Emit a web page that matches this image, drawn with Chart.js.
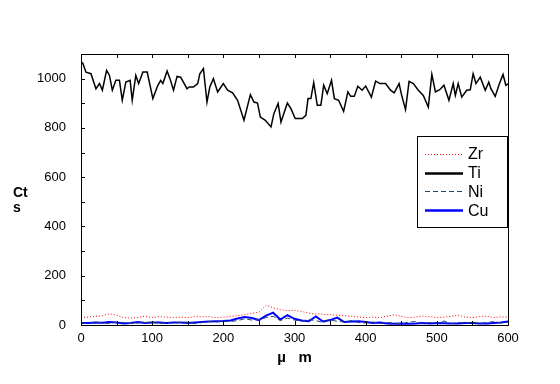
<!DOCTYPE html>
<html>
<head>
<meta charset="utf-8">
<script src="https://cdn.jsdelivr.net/npm/chart.js@4/dist/chart.umd.min.js"></script>
<style>
    html, body { margin: 0; padding: 0; background: #fff; }
</style>
</head>
<body>
<canvas id="profileChart" width="560" height="384"></canvas>
<script>
// Ti trace, read point by point (position in µm, counts)
const tiX = [2, 7, 14, 21, 26, 30, 36, 40, 44, 49, 54, 58, 63, 69, 72, 77, 81, 87, 93, 101,
    108, 112, 115, 121, 125, 130, 135, 140, 149, 152, 158, 164, 167, 172, 177, 181, 186, 192, 200, 206,
    213, 220, 229, 238, 243, 248, 252, 259, 267, 271, 277, 281, 290, 295, 301, 311, 316, 319, 323, 327,
    332, 337, 341, 346, 352, 356, 362, 369, 375, 379, 384, 389, 395, 400, 408, 414, 420, 428, 435, 440,
    447, 450, 456, 461, 467, 474, 481, 488, 493, 498, 504, 510, 517, 523, 526, 530, 535, 542, 547, 551,
    555, 561, 568, 573, 576, 582, 588, 593, 597, 601];
const tiY = [1067, 1026, 1020, 959, 980, 953, 1034, 1013, 953, 993, 993, 912, 986, 993, 912, 1013, 980, 1027, 1027, 919,
    973, 993, 980, 1031, 1000, 953, 1009, 1006, 959, 966, 966, 980, 1020, 1041, 905, 966, 1000, 946, 980, 953,
    942, 912, 831, 935, 905, 901, 844, 831, 804, 858, 899, 824, 901, 878, 838, 838, 851, 919, 919, 984,
    892, 892, 973, 939, 993, 919, 912, 867, 946, 928, 928, 969, 953, 970, 925, 990, 980, 980, 953, 942,
    980, 939, 874, 989, 980, 953, 932, 885, 1017, 946, 955, 973, 912, 980, 932, 980, 925, 953, 955, 1020,
    980, 1006, 953, 986, 959, 928, 980, 1017, 973, 980];

// minor elements, sampled every 10 µm
const stepX = [0, 10, 20, 30, 40, 50, 60, 70, 80, 90, 100, 110, 120, 130, 140, 150, 160, 170, 180, 190,
    200, 210, 220, 230, 240, 250, 260, 270, 280, 290, 300, 310, 320, 330, 340, 350, 360, 370, 380, 390,
    400, 410, 420, 430, 440, 450, 460, 470, 480, 490, 500, 510, 520, 530, 540, 550, 560, 570, 580, 590, 600];
const zrY = [30, 32, 35, 38, 45, 40, 30, 28, 30, 36, 30, 34, 32, 30, 32, 30, 34, 33, 34, 30,
    32, 35, 38, 42, 48, 52, 80, 70, 62, 58, 60, 55, 48, 45, 44, 42, 40, 38, 35, 33,
    30, 32, 30, 36, 42, 35, 30, 32, 36, 34, 30, 32, 35, 40, 32, 30, 34, 36, 30, 33, 32];
const niY = [10, 4, 12, 8, 6, 12, 10, 6, 8, 10, 12, 6, 10, 8, 10, 12, 6, 10, 14, 12,
    15, 14, 18, 25, 20, 22, 30, 35, 18, 28, 20, 15, 22, 18, 10, 20, 15, 12, 18, 10,
    8, 12, 6, 10, 8, 4, 12, 14, 6, 10, 8, 16, 6, 10, 8, 12, 6, 10, 14, 8, 12];
const cuY = [8, 8, 10, 9, 12, 10, 6, 8, 12, 8, 10, 10, 8, 10, 10, 8, 10, 12, 14, 15,
    16, 18, 26, 32, 28, 20, 38, 50, 22, 40, 25, 18, 15, 35, 14, 20, 30, 12, 14, 15,
    12, 8, 10, 6, 5, 6, 5, 6, 8, 6, 8, 7, 6, 6, 8, 8, 6, 6, 8, 10, 14];

const xTicks = [0, 100, 200, 300, 400, 500, 600];
const yTicks = [0, 200, 400, 600, 800, 1000];

function pairs(xs, ys) {
    return xs.map((x, i) => ({ x: x, y: ys[i] }));
}

const FONT = "'Liberation Sans Narrow', 'Liberation Sans', Arial, sans-serif";

// inward tick marks, box legend and the stacked "Ct / s" label
const framePlugin = {
    id: 'frame',
    afterDraw(chart) {
        const ctx = chart.ctx;
        const area = chart.chartArea;
        const xs = chart.scales.x;
        const ys = chart.scales.y;
        ctx.save();
        ctx.strokeStyle = '#000';
        ctx.lineWidth = 1;
        ctx.beginPath();
        for (let v = 50; v < 600; v += 50) {
            const px = Math.round(xs.getPixelForValue(v)) + 0.5;
            ctx.moveTo(px, area.top);
            ctx.lineTo(px, area.top + 4);
            ctx.moveTo(px, area.bottom);
            ctx.lineTo(px, area.bottom - 4);
        }
        for (let v = 100; v < 1100; v += 100) {
            const py = Math.round(ys.getPixelForValue(v)) + 0.5;
            ctx.moveTo(area.left, py);
            ctx.lineTo(area.left + 4, py);
        }
        ctx.stroke();
        ctx.strokeRect(Math.round(area.left) + 0.5, Math.round(area.top) + 0.5,
            Math.round(area.right - area.left), Math.round(area.bottom - area.top));

        // legend
        const lx = 417, ly = 136, lw = 90, lh = 91;
        ctx.fillStyle = '#fff';
        ctx.fillRect(lx, ly, lw, lh);
        ctx.strokeRect(lx + 0.5, ly + 0.5, lw, lh);
        ctx.font = '16px ' + FONT;
        ctx.textBaseline = 'middle';
        chart.data.datasets.forEach((ds, i) => {
            const yy = ly + 18 + i * 18.7;
            ctx.save();
            ctx.strokeStyle = ds.borderColor;
            ctx.lineWidth = ds.borderWidth >= 1.5 ? 2.5 : 1;
            ctx.setLineDash(ds.borderDash || []);
            ctx.beginPath();
            ctx.moveTo(lx + 8, Math.round(yy) + 0.5);
            ctx.lineTo(lx + 46, Math.round(yy) + 0.5);
            ctx.stroke();
            ctx.restore();
            ctx.fillStyle = '#000';
            ctx.fillText(ds.label, lx + 51, yy + 1);
        });

        ctx.font = 'bold 14px Liberation Sans, Arial, sans-serif';
        ctx.textBaseline = 'alphabetic';
        ctx.fillStyle = '#000';
        ctx.fillText('Ct', 13, 197);
        ctx.fillText('s', 13, 212);
        ctx.restore();
    }
};

new Chart(document.getElementById('profileChart').getContext('2d'), {
    type: 'scatter',
    data: {
        datasets: [{
            label: 'Zr',
            data: pairs(stepX, zrY),
            borderColor: '#ff0000',
            borderWidth: 1,
            borderDash: [1, 2]
        }, {
            label: 'Ti',
            data: pairs(tiX, tiY),
            borderColor: '#000000',
            borderWidth: 1.5
        }, {
            label: 'Ni',
            data: pairs(stepX, niY),
            borderColor: '#1b4a6b',
            borderWidth: 1,
            borderDash: [5, 3]
        }, {
            label: 'Cu',
            data: pairs(stepX, cuY),
            borderColor: '#0000ff',
            borderWidth: 2
        }]
    },
    options: {
        responsive: false,
        animation: false,
        showLine: true,
        elements: {
            point: { radius: 0, hoverRadius: 0 },
            line: { tension: 0, borderJoinStyle: 'miter' }
        },
        layout: { padding: { top: 54, right: 52, left: 0, bottom: 0 } },
        plugins: {
            legend: { display: false },
            tooltip: { enabled: false }
        },
        scales: {
            x: {
                type: 'linear',
                min: 0,
                max: 600,
                grid: { display: false, drawTicks: false },
                border: { display: false },
                afterFit: scale => { scale.height = 59; },
                afterBuildTicks: scale => { scale.ticks = xTicks.map(v => ({ value: v })); },
                ticks: {
                    padding: 6,
                    maxRotation: 0,
                    color: '#000',
                    font: { family: FONT, size: 13 },
                    callback: v => String(v)
                },
                title: {
                    display: true,
                    text: 'µ   m',
                    color: '#000',
                    font: { family: 'Liberation Sans, Arial, sans-serif', size: 15, weight: 'bold' },
                    padding: { top: 0, bottom: 17 }
                }
            },
            y: {
                type: 'linear',
                min: 0,
                max: 1100,
                grid: { display: false, drawTicks: false },
                border: { display: false },
                afterFit: scale => { scale.width = 81; },
                afterBuildTicks: scale => { scale.ticks = yTicks.map(v => ({ value: v })); },
                ticks: {
                    padding: 15,
                    color: '#000',
                    font: { family: FONT, size: 13 },
                    callback: v => String(v)
                }
            }
        }
    },
    plugins: [framePlugin]
});
</script>
</body>
</html>
